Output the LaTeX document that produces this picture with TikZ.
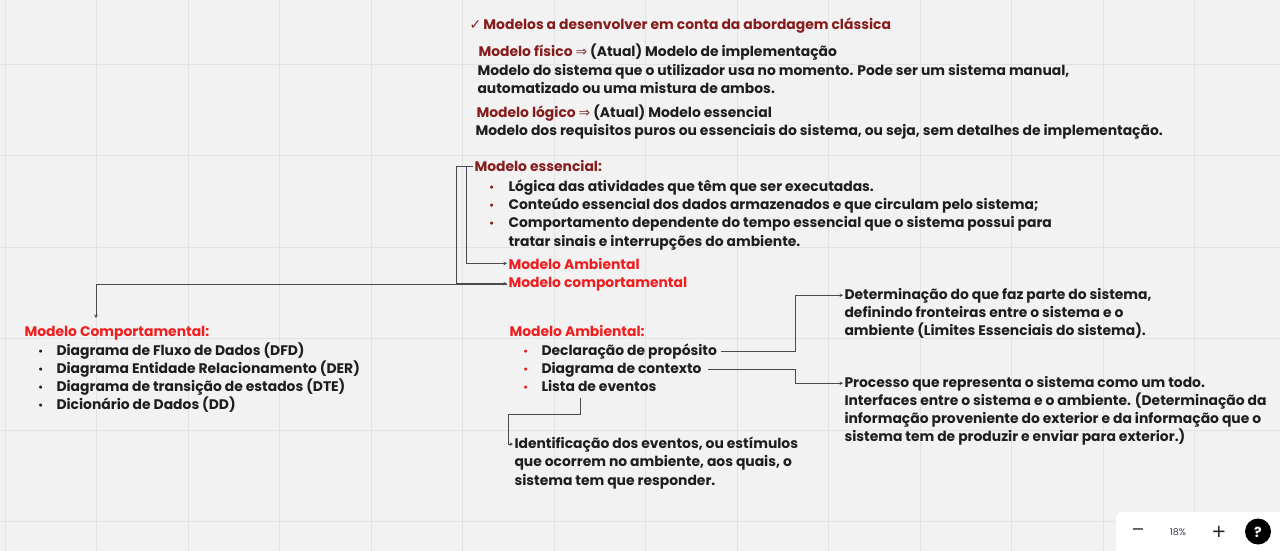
\documentclass[tikz,border=0pt]{standalone}
\usepackage{fontspec}
\setmainfont{Poppins}
\newfontfamily\symf{DejaVu Sans}
\usetikzlibrary{arrows.meta,calc}
\definecolor{bg}{HTML}{F2F2F2}
\definecolor{gridc}{HTML}{E3E3E3}
\definecolor{dred}{HTML}{861D1D}
\definecolor{bred}{HTML}{F01E1E}
\definecolor{ink}{HTML}{1E1E1E}
\definecolor{wire}{HTML}{4A4A4A}
\definecolor{slate}{HTML}{3A3A5A}
\tikzset{
 txt/.style={anchor=base west, inner sep=0pt, outer sep=1.5pt, yshift=-1.5pt, text=ink, font=\fontsize{13.9}{16}\selectfont\bfseries},
 head/.style={txt, text=dred, font=\fontsize{13.9}{16}\selectfont\bfseries},
 dtitle/.style={txt, text=dred},
 rtitle/.style={txt, text=bred},
 bul/.style={anchor=base west, inner sep=0pt, yshift=-1.5pt, font=\symf\fontsize{10.5}{10.5}\selectfont},
 arr/.style={draw=wire, line width=0.9pt, -{Stealth[length=3.5pt,width=3.5pt]}},
}
\newcommand{\impl}{{\color{dred!75!gray}\symf\mdseries ⇒}}
\begin{document}
\begin{tikzpicture}[x=1pt,y=-1pt]
\useasboundingbox (0,0) rectangle (1280,551);
\clip (0,0) rectangle (1280,551);
\fill[bg] (0,0) rectangle (1280,551);
% grid
\foreach \i in {0,...,13} {\draw[gridc, line width=0.8pt] ({5+91.5*\i},0) -- ({5+91.5*\i},551);}
\foreach \j in {0,...,6} {\draw[gridc, line width=0.8pt] (0,{-27.5+91.5*\j}) -- (1280,{-27.5+91.5*\j});}

% heading
\node[head] (head) at (468,28) {{\symf\mdseries ✓}\,Modelos a desenvolver em conta da abordagem clássica};
\node[txt] (fis) at (477,55) {{\color{dred}Modelo físico} \impl\ (Atual) Modelo de implementação};
\node[txt] (fis1) at (476,74) {Modelo do sistema que o utilizador usa no momento. Pode ser um sistema manual,};
\node[txt] (fis2) at (476,92) {automatizado ou uma mistura de ambos.};
\node[txt] (log) at (475,116) {{\color{dred}Modelo lógico} \impl\ (Atual) Modelo essencial};
\node[txt] (log1) at (474,134) {Modelo dos requisitos puros ou essenciais do sistema, ou seja, sem detalhes de implementação.};

% modelo essencial
\node[dtitle] (ess) at (473,170) {Modelo essencial:};
\node[bul, text=dred] (eb1) at (488.5,189.5) {•};
\node[txt] (e1) at (507,189.5) {Lógica das atividades que têm que ser executadas.};
\node[bul, text=dred] (eb2) at (488.5,208) {•};
\node[txt] (e2) at (507,208) {Conteúdo essencial dos dados armazenados e que circulam pelo sistema;};
\node[bul, text=dred] (eb3) at (488.5,226) {•};
\node[txt] (e3) at (507,226) {Comportamento dependente do tempo essencial que o sistema possui para};
\node[txt] (e4) at (507,244.5) {tratar sinais e interrupções do ambiente.};
\node[rtitle] (camb) at (507,267.5) {Modelo Ambiental};
\node[rtitle] (comp) at (507,285.5) {Modelo comportamental};

\coordinate (xo) at (456,0);
\coordinate (xi) at (466,0);
\draw[arr] (ess.west) -- (xo |- ess.west) |- (comp.west);
\draw[arr] (ess.west) -- (xi |- ess.west) |- (camb.west);

% modelo comportamental
\node[rtitle] (compL) at (23,334.5) {Modelo Comportamental:};
\node[bul, text=ink] (cb1) at (37.5,353.5) {•};
\node[txt] (c1) at (55,353.5) {Diagrama de Fluxo de Dados (DFD)};
\node[bul, text=ink] (cb2) at (37.5,371.5) {•};
\node[txt] (c2) at (55,371.5) {Diagrama Entidade Relacionamento (DER)};
\node[bul, text=ink] (cb3) at (37.5,389.5) {•};
\node[txt] (c3) at (55,389.5) {Diagrama de transição de estados (DTE)};
\node[bul, text=ink] (cb4) at (37.5,407.5) {•};
\node[txt] (c4) at (55,407.5) {Dicionário de Dados (DD)};
\coordinate (cT) at (96,318);
\draw[arr] ([yshift=-1pt]comp.west) -| (cT);

% modelo ambiental
\node[rtitle] (ambL) at (508,334.5) {Modelo Ambiental:};
\node[bul, text=bred] (ab1) at (522.5,353.5) {•};
\node[txt] (decl) at (540,353.5) {Declaração de propósito};
\node[bul, text=bred] (ab2) at (522.5,371.5) {•};
\node[txt] (ctx) at (540,371.5) {Diagrama de contexto};
\node[bul, text=bred] (ab3) at (522.5,389.5) {•};
\node[txt] (lista) at (540,389.5) {Lista de eventos};

\node[txt] (det1) at (843,297.5) {Determinação do que faz parte do sistema,};
\node[txt] (det2) at (843,315.5) {definindo fronteiras entre o sistema e o};
\node[txt] (det3) at (843,333.5) {ambiente (Limites Essenciais do sistema).};

\node[txt] (pr1) at (843,385.5) {Processo que representa o sistema como um todo.};
\node[txt] (pr2) at (843,403.5) {Interfaces entre o sistema e o ambiente. (Determinação da};
\node[txt] (pr3) at (843,421.5) {informação proveniente do exterior e da informação que o};
\node[txt] (pr4) at (843,439.5) {sistema tem de produzir e enviar para exterior.)};

\node[txt] (id1) at (513,446.5) {Identificação dos eventos, ou estímulos};
\node[txt] (id2) at (513,465) {que ocorrem no ambiente, aos quais, o};
\node[txt] (id3) at (513,483.5) {sistema tem que responder.};

\coordinate (xr) at (795,0);
\draw[arr] ([xshift=3pt]decl.east) -- (xr |- decl.east) |- (det1.west);
\draw[arr] ([xshift=5pt]ctx.east) -- (xr |- ctx.east) |- (pr1.west);
\draw[arr] ([xshift=-19pt,yshift=-5pt]lista.south) -- ++(0,17) -| ([xshift=-5pt]id1.west) -- (id1.west);

% zoom widget
\fill[white, rounded corners=6pt] (1116,512) rectangle (1300,570);
\node[inner sep=0pt, text=ink, font=\symf\fontsize{16}{16}\selectfont] (zm) at (1138,532) {−};
\node[inner sep=0pt, text=slate, font=\fontsize{9.5}{10}\selectfont] (zp) at (1178,532) {18\%};
\node[inner sep=0pt, text=ink, font=\symf\fontsize{18}{18}\selectfont] (zpl) at (1219,532) {+};
\fill[black] (1258,531.5) circle (13);
\node[inner sep=0pt, text=white, font=\fontsize{14}{14}\selectfont\bfseries] (hlp) at (1258,532) {?};
\end{tikzpicture}
\end{document}
